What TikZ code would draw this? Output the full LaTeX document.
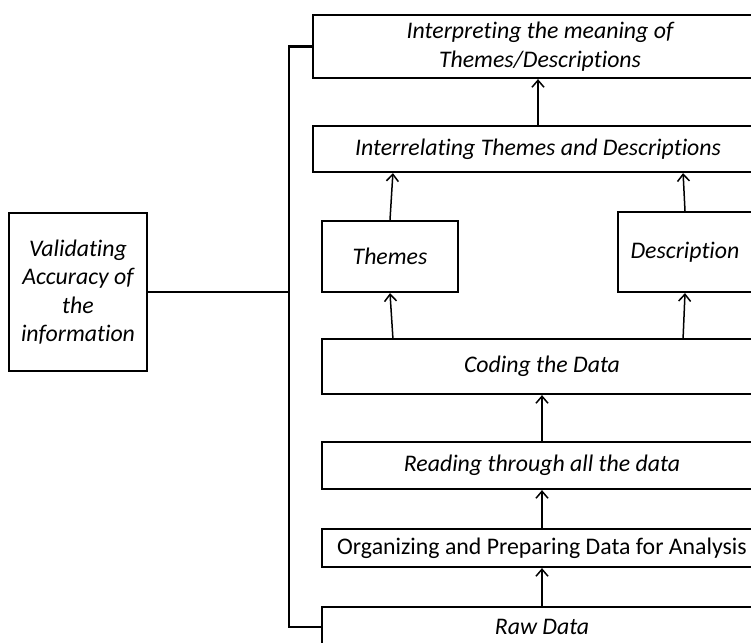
\documentclass[tikz,border=0pt]{standalone}
\usepackage{fontspec}
\setmainfont{Carlito}[Ligatures=NoCommon, Contextuals=NoAlternate]
\usetikzlibrary{arrows.meta,calc}

\newcommand{\diagfont}{\fontsize{11.9}{14.2}\selectfont}

\tikzset{
  stepbox/.style={draw, line width=1.1pt, inner sep=2pt, align=center, font=\diagfont\itshape},
  link/.style={->, line width=0.75pt},
}

\begin{document}
\begin{tikzpicture}[x=0.5pt, y=-0.5pt, >={Straight Barb[length=3.5pt,width=6pt]}]
	\clip (0,0) rectangle (751,643);
	% the boxes of the analysis steps
	\node [stepbox, minimum width=227pt, minimum height=31.5pt] (interp) at (540,46.5) {Interpreting the meaning of\\Themes/Descriptions};
	\node [stepbox, minimum width=225pt, minimum height=23pt] (interrel) at (538,149) {Interrelating Themes and Descriptions};
	\node [stepbox, minimum width=68pt, minimum height=35.5pt] (themes) at (390,256.5) {Themes};
	\node [stepbox, minimum width=67pt, minimum height=40pt] (descr) at (685,252) {Description};
	\node [stepbox, minimum width=220pt, minimum height=27.5pt] (coding) at (542,366.5) {Coding the Data};
	\node [stepbox, minimum width=220pt, minimum height=23.5pt] (reading) at (542,465.5) {Reading through all the data};
	\node [stepbox, minimum width=220pt, minimum height=19pt, font=\diagfont] (organ) at (542,548) {Organizing and Preparing Data for Analysis};
	\node [stepbox, minimum width=220pt, minimum height=20pt] (raw) at (542,627) {Raw Data};
	\node [stepbox, minimum width=69pt, minimum height=79pt] (valid) at (78,292) {Validating\\Accuracy of\\the\\information};
	% upward flow
	\draw [link] (raw.north) -- (organ.south);
	\draw [link] (organ.north) -- (reading.south);
	\draw [link] (reading.north) -- (coding.south);
	\draw [link] ($(coding.north west)+(72,0)$) -- (themes.south);
	\draw [link] ($(coding.north east)+(-80,0)$) -- (descr.south);
	\draw [link] (themes.north) -- ($(interrel.south west)+(81,0)$);
	\draw [link] (descr.north) -- ($(interrel.south east)+(-81,0)$);
	\draw [link] (interrel.north) -- (interrel.north |- interp.south);
	% validation bracket
	\coordinate (brk) at ($(interp.west)+(-23,0)$);
	\draw [line width=1.1pt] (interp.west) -- (brk) |- (raw.west);
	\draw [line width=0.6pt] (valid.east) -- (valid.east -| brk);
\end{tikzpicture}
\end{document}
